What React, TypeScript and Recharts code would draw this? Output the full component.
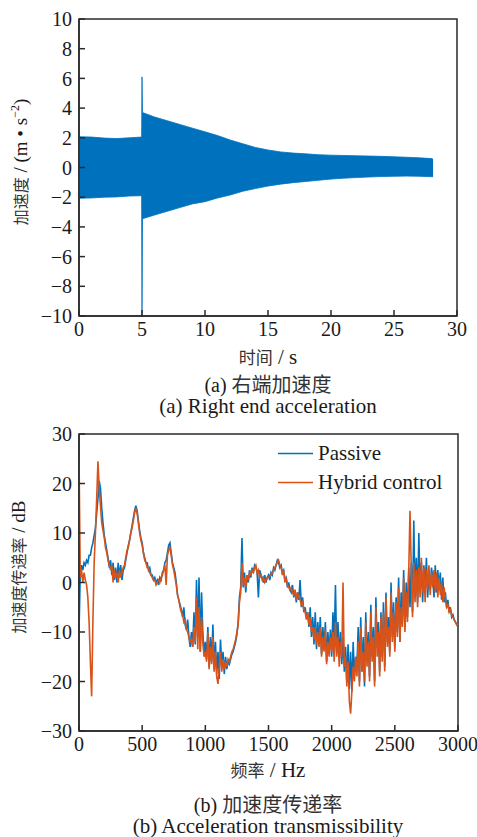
import React from 'react';
import { ComposedChart, Area, Line, XAxis, YAxis, ReferenceArea, Legend } from 'recharts';

// ---------- (a) right end acceleration: envelope of the oscillating signal ----------
const timeS = [0, 1, 2, 3, 4, 4.97, 5.0, 5.04, 6, 7, 8, 9, 10, 11, 12, 13, 14, 15, 16, 17, 18, 19, 20, 21, 22, 23, 24, 25, 26, 27, 28, 28.1];
const accUpper = [2.07, 2.05, 1.98, 1.95, 2.0, 2.05, 6.1, 3.7, 3.4, 3.15, 2.9, 2.65, 2.4, 2.15, 1.85, 1.6, 1.35, 1.18, 1.05, 0.97, 0.92, 0.86, 0.83, 0.81, 0.79, 0.77, 0.75, 0.72, 0.69, 0.65, 0.6, 0.55];
const accLower = [-2.07, -2.05, -2.0, -1.98, -1.92, -1.9, -10, -3.45, -3.2, -2.95, -2.7, -2.45, -2.3, -2.05, -1.85, -1.6, -1.42, -1.25, -1.12, -1.02, -0.94, -0.86, -0.78, -0.72, -0.68, -0.64, -0.61, -0.59, -0.58, -0.59, -0.62, -0.62];
const timeTicks = [0, 5, 10, 15, 20, 25, 30];
const accTicks = [-10, -8, -6, -4, -2, 0, 2, 4, 6, 8, 10];

// ---------- (b) acceleration transmissibility ----------
const freqStepHz = 10;
const passiveDb = [
  -10, 2, 3.5, 2.5, 4, 3.5, 4.5, 4, 5.5, 5.5,
  7, 8, 9.5, 11, 14, 17, 20.5, 19, 15, 12,
  9.5, 8, 6.5, 5, 3, 4.5, 1.5, 4, 0.5, 3,
  0, 4, 1, 3.5, 0.5, 2.5, 3, 4.5, 6, 7.5,
  8.5, 10, 11.5, 13, 14.5, 15.5, 14.5, 12.5, 10.5, 9,
  8, 6, 5, 4, 4, 2.5, 3, 1.5, 1.5, 0.5,
  1, 0, 0.5, -0.5, 1, 0.5, 2, 2.5, 4, 4.5,
  6, 7.5, 8, 6, 4, 3, 2, 0, -2.5, -3.5,
  -4.5, -5.5, -7, -5, -8.5, -9.5, -7.5, -11, -13, -10,
  -13, -6, -12.5, 0.5, -11, 1, -14, -2, -10, -14.5,
  -12, -15.5, -9, -17, -11, -16, -8.5, -17.5, -12, -18.5,
  -14, -19.5, -11.5, -17, -14, -18.5, -15, -17.5, -16, -16.5,
  -15.5, -14.5, -14, -13, -12, -10.5, -8, -3, -1, 9,
  -1, 2, -2, 1.5, 0, 2.5, 1, 3, 2, 3.5,
  3, 2, -3, 2.5, 1.5, 1, 0, 1.5, 0, 1,
  1.5, 0.5, 2, 1.5, 3, 2.5, 3.5, 4.5, 4, 3,
  3.5, 2, 2.5, 0.5, 1, -1, 0, -1.5, -2, -0.5,
  -3, -1.5, -4, -2, -3.5, 0.5, -5, -3, -6, -5,
  -7, -6, -9, -5, -11, -7, -12.5, -6, -13.5, -8,
  -12, -7, -14.5, -9, -13, -8, -16, -10, -14, -9.5,
  -15, -6, -12, -0.5, -14, -8, -15.5, -10, -16.5, -11,
  -18, -13, -20, -12.5, -21.5, -14, -22, -12, -19, -15,
  -17, -9, -20, -7, -18, -11, -21, -6, -16, -10,
  -19, -4.5, -15, -9, -20, -3, -13, -8, -18, -6,
  -15, -4, -17, -2, -12, -7, -14, 0, -11, -4,
  -13, -3, -10, 1, -12, -2, -8, 2.5, -9, 0,
  -7, 3, -5, 4, -6, 12.5, -3, 5, -4, 10,
  -2, 4, -4, 3.5, -1, 5, -3, 2, -1.5, 3,
  1, -3, 3.5, -2, 2.5, -1, 2, -3.5, 1, -4,
  -2, -5, -3.5, -6, -5, -7, -6.5, -7.5, -8, -8.5,
  -9,
];
const hybridDb = [
  26, 1, 2.5, 0, 2, 0.5, -0.5, -3, -8, -16,
  -23, -8, 4, 10, 17, 24.5, 19, 15.5, 12, 10.5,
  9, 7, 6, 4.5, 3.5, 2.5, 3.5, 0, 2.5, 1,
  2, 0, 2.5, 1, 2, 3, 3.5, 5, 6.5, 7,
  8.5, 10, 11, 12.5, 14, 15, 14, 12, 10, 8.5,
  7.5, 6, 4.5, 4, 3, 3, 2, 1.5, 1, 0.5,
  0.5, -0.5, 0, 0.5, 0, 1, 1.5, 2.5, 3.5, -0.5,
  5.5, 6.5, 7, 5.5, 3.5, 2.5, 1, -0.5, -2.5, -3.5,
  -5, -6, -6.5, -8, -7.5, -9.5, -10, -11, -12, -11.5,
  -13, -9, -12, -3, -13.5, -5, -14, -7, -12, -15,
  -14, -16, -10, -17.5, -13, -16.5, -11, -18, -14, -19,
  -20.5, -17, -14, -18, -15.5, -17.5, -16, -17, -15.5, -16,
  -15, -14, -13.5, -12.5, -11.5, -10, -8.5, -4, -2, 4,
  -0.5, 1, -1, 1.5, 0.5, 2, 1.5, 2.5, 2, 3,
  3.5, 2, 2.5, 1, 1.5, 0.5, 1, 0, 0.5, 1,
  1, 1.5, 1.5, 2, 2.5, 3, 3.5, 4, 4.5, 3.5,
  3, 1.5, 2.5, 0, 1, -0.5, -1, -1.5, -1, -2,
  -2.5, -1.5, -3.5, -2, -3, -3.5, -4.5, -4, -5.5, -6,
  -7.5, -6, -8.5, -7, -10, -9, -11.5, -9, -12.5, -10,
  -13, -9, -15, -11, -14, -9.5, -16.5, -12, -15, -11,
  -14, -10, -16, -8, -15, -11, -17, -12, -15, 0,
  -17, -15, -21, -16, -24, -26.5, -22, -17, -20, -15,
  -19, -12, -21, -9, -18, -14, -20, -8, -17, -12,
  -20, -6, -16, -11, -21, -5, -15, -10, -19, -7,
  -16, -6, -18, -3, -13, -9, -15, -2, -12, -6,
  -14, -4, -11, -1, -12, -5, -9, 1, -10, -2,
  -8, 2, 14.5, 3, -7, 4, -4, 2.5, -5, 3,
  -3, 5, -2, 3, -4, 2.5, -1.5, 3.5, -2.5, 2,
  -1, 2.5, -2, 2, -3, 1, -2.5, 0, -4, -1,
  -3.5, -5, -4.5, -6, -5.5, -6.5, -7, -7.5, -8, -8.5,
  -8.5,
];
const freqTicks = [0, 500, 1000, 1500, 2000, 2500, 3000];
const dbTicks = [-30, -20, -10, 0, 10, 20, 30];
const seriesNames = ['Passive', 'Hybrid control'];

// ---------- styling ----------
const BLUE = '#0072BD';
const ORANGE = '#D95319';
const AXIS = '#2a2a2a';
const SERIF = "'Liberation Serif', 'DejaVu Serif', serif";
const CJK = "'Noto Sans CJK SC', sans-serif";
const tickStyle = { fontFamily: SERIF, fontSize: 20, fill: '#1a1a1a' };
const fmt = (v: number) => (v < 0 ? '\u2212' + Math.abs(v) : String(v));

const accData = timeS.map((t, i) => ({ t, env: [accLower[i], accUpper[i]] }));
const tfData = passiveDb.map((p, i) => ({ f: i * freqStepHz, passive: p, hybrid: hybridDb[i] }));

function LegendContent(props: any) {
  const payload = [...(props.payload || [])].sort(
    (a: any, b: any) => seriesNames.indexOf(a.value) - seriesNames.indexOf(b.value)
  );
  return (
    <div style={{ fontFamily: SERIF, fontSize: 21, color: '#1a1a1a' }}>
      {payload.map((p: any) => (
        <div key={p.value} style={{ display: 'flex', alignItems: 'center', height: 29, whiteSpace: 'nowrap' }}>
          <svg width={40} height={29} style={{ display: 'block' }}>
            <line x1={0} x2={35} y1={14.5} y2={14.5} stroke={p.color} strokeWidth={1.6} />
          </svg>
          <span style={{ lineHeight: '29px' }}>{p.value}</span>
        </div>
      ))}
    </div>
  );
}

function HText({ cx, cy, children, rotate = false, w = 300 }: any) {
  const h = 20;
  return (
    <div
      style={{
        position: 'absolute',
        left: cx - w / 2,
        top: cy - h / 2,
        width: w,
        height: h,
        lineHeight: h + 'px',
        textAlign: 'center',
        whiteSpace: 'nowrap',
        color: '#1a1a1a',
        transform: rotate ? 'rotate(-90deg)' : undefined,
        transformOrigin: 'center',
      }}
    >
      {children}
    </div>
  );
}

const cj = (s: string, size = 16) => <span style={{ fontFamily: CJK, fontSize: size, color: '#333' }}>{s}</span>;
const lt = (s: string, size = 19) => <span style={{ fontFamily: SERIF, fontSize: size, whiteSpace: 'pre' }}>{s}</span>;

export default function App() {
  return (
    <div style={{ position: 'absolute', left: 0, top: 0, width: 477, height: 837, background: '#fff', overflow: 'hidden' }}>
      <div style={{ position: 'absolute', left: 0, top: 0 }}>
        <ComposedChart width={477} height={345} data={accData} margin={{ top: 19, right: 20, left: 0, bottom: 15 }}>
          <ReferenceArea x1={0} x2={30} y1={-10} y2={10} fill="none" stroke={AXIS} strokeWidth={1.5} ifOverflow="visible" />
          <XAxis
            dataKey="t"
            type="number"
            domain={[0, 30]}
            ticks={timeTicks}
            interval={0}
            height={14}
            tickSize={-6}
            tickMargin={12}
            stroke={AXIS}
            strokeWidth={1.5}
            tick={tickStyle}
            tickFormatter={fmt}
            allowDataOverflow
          />
          <YAxis
            type="number"
            domain={[-10, 10]}
            ticks={accTicks}
            interval={0}
            width={79}
            tickSize={-6}
            tickMargin={13}
            stroke={AXIS}
            strokeWidth={1.5}
            tick={tickStyle}
            tickFormatter={fmt}
            allowDataOverflow
          />
          <Area dataKey="env" type="linear" stroke={BLUE} strokeWidth={0.8} fill={BLUE} fillOpacity={1} isAnimationActive={false} />
        </ComposedChart>
      </div>

      <HText cx={20} cy={162} rotate w={220}>
        {cj('加速度')}
        {lt(' / (m • s')}
        <span style={{ fontFamily: SERIF, fontSize: 12, position: 'relative', top: -8 }}>{'\u22122'}</span>
        {lt(')')}
      </HText>
      <HText cx={268} cy={357}>
        {cj('时间', 17)}
        {lt(' / s', 21)}
      </HText>
      <HText cx={268} cy={384}>
        {lt('(a) ', 20)}
        {cj('右端加速度', 20)}
      </HText>
      <HText cx={268} cy={406}>{lt('(a) Right end acceleration', 21)}</HText>

      <div style={{ position: 'absolute', left: 0, top: 420 }}>
        <ComposedChart width={477} height={345} data={tfData} margin={{ top: 14, right: 19, left: 0, bottom: 15 }}>
          <ReferenceArea x1={0} x2={3000} y1={-30} y2={30} fill="none" stroke={AXIS} strokeWidth={1.5} ifOverflow="visible" />
          <XAxis
            dataKey="f"
            type="number"
            domain={[0, 3000]}
            ticks={freqTicks}
            interval={0}
            height={19}
            tickSize={-6}
            tickMargin={12}
            stroke={AXIS}
            strokeWidth={1.5}
            tick={tickStyle}
            tickFormatter={fmt}
            allowDataOverflow
          />
          <YAxis
            type="number"
            domain={[-30, 30]}
            ticks={dbTicks}
            interval={0}
            width={79}
            tickSize={-6}
            tickMargin={13}
            stroke={AXIS}
            strokeWidth={1.5}
            tick={tickStyle}
            tickFormatter={fmt}
            allowDataOverflow
          />
          <Legend
            layout="vertical"
            align="center"
            verticalAlign="middle"
            content={<LegendContent />}
            wrapperStyle={{ left: 278, top: 19, width: 'auto', height: 'auto' }}
          />
          <Line name={seriesNames[0]} dataKey="passive" type="linear" stroke={BLUE} strokeWidth={1.6} dot={false} isAnimationActive={false} />
          <Line name={seriesNames[1]} dataKey="hybrid" type="linear" stroke={ORANGE} strokeWidth={1.6} dot={false} isAnimationActive={false} />
        </ComposedChart>
      </div>

      <HText cx={18} cy={567} rotate w={220}>
        {cj('加速度传递率')}
        {lt(' / dB')}
      </HText>
      <HText cx={268} cy={770}>
        {cj('频率', 17)}
        {lt(' / Hz', 21)}
      </HText>
      <HText cx={268} cy={804}>
        {lt('(b) ', 20)}
        {cj('加速度传递率', 20)}
      </HText>
      <HText cx={268} cy={826}>{lt('(b) Acceleration transmissibility', 21)}</HText>
    </div>
  );
}
